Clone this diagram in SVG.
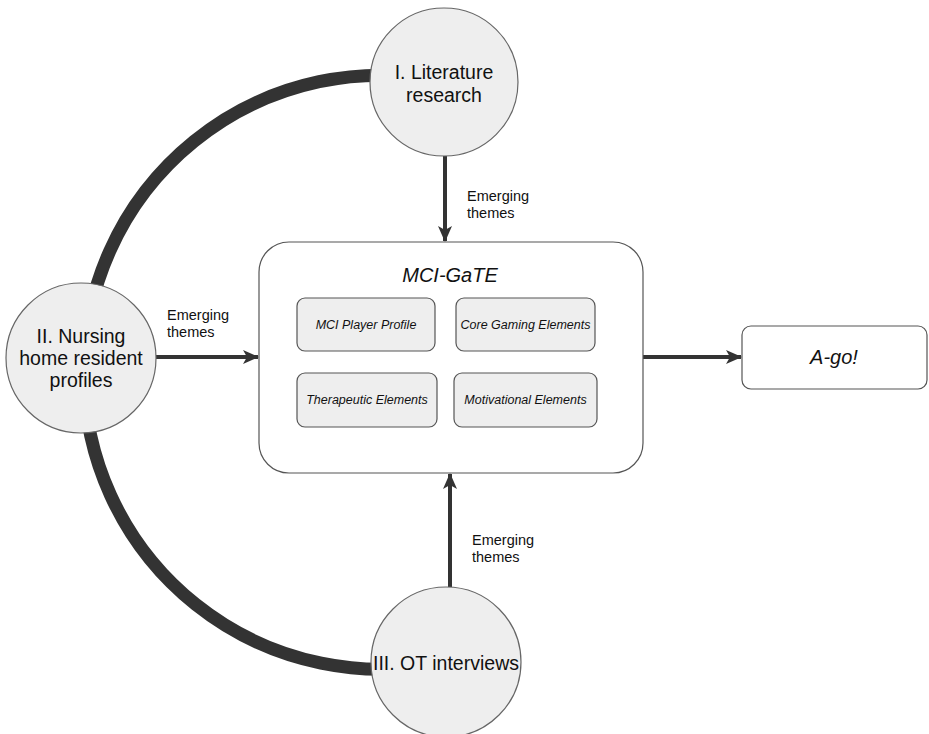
<svg xmlns="http://www.w3.org/2000/svg" width="929" height="734" viewBox="0 0 929 734">
<defs>
<style>
.circ{fill:#eeeeee;stroke:#666666;stroke-width:1.2}
.box{fill:#ffffff;stroke:#555555;stroke-width:1.2}
.inner{fill:#eeeeee;stroke:#555555;stroke-width:1.2}
.ct{font-family:"Liberation Sans",Arial,sans-serif;font-size:19.5px;fill:#111;text-anchor:middle}
.it{font-family:"Liberation Sans",Arial,sans-serif;font-style:italic;fill:#111;text-anchor:middle}
.lbl{font-family:"Liberation Sans",Arial,sans-serif;font-size:14.5px;fill:#111}
.arr{fill:none;stroke:#333333;stroke-width:4}
</style>
<marker id="ah" markerUnits="userSpaceOnUse" markerWidth="16" markerHeight="14" refX="15" refY="7" orient="auto">
<path d="M0,0 L16,7 L0,14 L4,7 Z" fill="#333333"/>
</marker>
</defs>
<rect width="929" height="734" fill="#ffffff"/>
<g id="connectors">
<path d="M444,82 A297,297 0 1 0 446,662" fill="none" stroke="#333333" stroke-width="13"/>
<line class="arr" x1="445" y1="156" x2="445" y2="241" marker-end="url(#ah)"/>
<line class="arr" x1="156" y1="357" x2="258" y2="357" marker-end="url(#ah)"/>
<line class="arr" x1="450" y1="587" x2="450" y2="474" marker-end="url(#ah)"/>
<line class="arr" x1="643" y1="357" x2="741" y2="357" marker-end="url(#ah)"/>
<text class="lbl" x="467" y="201">Emerging</text>
<text class="lbl" x="467" y="218">themes</text>
<text class="lbl" x="167" y="320">Emerging</text>
<text class="lbl" x="167" y="337">themes</text>
<text class="lbl" x="472" y="545">Emerging</text>
<text class="lbl" x="472" y="562">themes</text>
</g>
<g id="lit">
<circle class="circ" cx="444" cy="82" r="74"/>
<text class="ct" x="444" y="79">I. Literature</text>
<text class="ct" x="444" y="102">research</text>
</g>
<g id="nursing">
<circle class="circ" cx="81" cy="358" r="75"/>
<text class="ct" x="81" y="343">II. Nursing</text>
<text class="ct" x="81" y="365">home resident</text>
<text class="ct" x="81" y="387">profiles</text>
</g>
<g id="ot">
<circle class="circ" cx="446" cy="662" r="75"/>
<text class="ct" x="446" y="670">III. OT interviews</text>
</g>
<g id="mcigate">
<rect class="box" x="259" y="242" width="384" height="231" rx="30"/>
<text class="it" x="450" y="282" font-size="20">MCI-GaTE</text>
</g>
<g id="player">
<rect class="inner" x="297" y="298" width="138" height="53" rx="8"/>
<text class="it" x="366" y="329" font-size="12.5">MCI Player Profile</text>
</g>
<g id="core">
<rect class="inner" x="456" y="298" width="139" height="53" rx="8"/>
<text class="it" x="525.5" y="329" font-size="12.5">Core Gaming Elements</text>
</g>
<g id="therapeutic">
<rect class="inner" x="297" y="373" width="140" height="54" rx="8"/>
<text class="it" x="367" y="404" font-size="12.5">Therapeutic Elements</text>
</g>
<g id="motivational">
<rect class="inner" x="454" y="373" width="143" height="54" rx="8"/>
<text class="it" x="525.5" y="404" font-size="12.5">Motivational Elements</text>
</g>
<g id="ago">
<rect class="box" x="742" y="326" width="185" height="63" rx="9"/>
<text class="it" x="834" y="364" font-size="20">A-go!</text>
</g>
</svg>
